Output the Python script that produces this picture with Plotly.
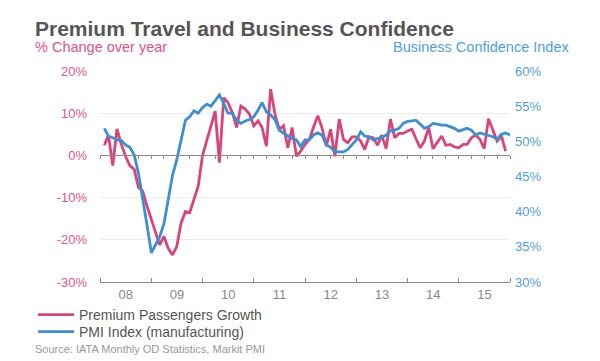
import pandas as pd
import plotly.graph_objects as go

# ---- data ----
premium_growth = [2.4, 4.8, -2.4, 6.3, 2.6, -0.2, -2.4, -3.3, -7.6, -8.5,
                  -12, -15, -18.4, -21.2, -19.2, -22, -23.6, -21.6, -16, -13.3,
                  -13.6, -10.5, -7.3, 0, 3.8, 7, 10.5, -1.7, 13.7, 12.5,
                  10.2, 6.6, 11.7, 11, 9.8, 7, 8.2, 6.6, 2.2, 15.7,
                  9.8, 6.2, 7, 1.8, 6.6, -0.2, 1, 2.6, 3.8, 6.6,
                  9.4, 6.6, 2.2, 6.2, -0.2, 8.6, 3.8, 3, 4.4, 4.4,
                  3.4, 1.4, 4.4, 4.2, 2.4, 4.8, 1.6, 8.6, 4.2, 5.2,
                  5.2, 5.8, 6.2, 4, 1.8, 3.4, 6.6, 1.6, 3, 4.6,
                  2.4, 2.6, 2, 1.8, 2.6, 2.6, 4.2, 4.8, 3.8, 1.6,
                  8.7, 6.2, 3.4, 4.6, 1]

pmi_index = [51.85, 50.75, 50.5, 50.2, 50.1, 49.5, 49.15, 48.05, 45.45, 41.9,
             38.1, 34.15, 35.25, 36.4, 38.3, 41.65, 45.2, 47.35, 50.2, 53,
             53.5, 54.35, 54, 54.8, 55.3, 55, 55.8, 56.6, 55.4, 54,
             54, 53, 52.55, 52.9, 53.1, 53.5, 54.45, 55.5, 54.2, 53.75,
             53.1, 51.6, 51.15, 50.75, 50.4, 50.2, 49.25, 50.2, 50.2, 50.9,
             51.2, 50.9, 49.5, 49.15, 48.5, 48.5, 48.5, 48.85, 49.5, 50.2,
             51.35, 50.75, 50.65, 50.2, 50.4, 50.55, 50.9, 51.5, 51.6, 51.85,
             52.55, 52.85, 52.9, 53, 52.45, 51.85, 52.1, 52.55, 52.45, 52.3,
             52.3, 52.1, 51.85, 51.45, 51.7, 51.85, 51.6, 50.9, 51.2, 51,
             50.75, 50.65, 50.3, 51, 51.2, 50.9]

start_month = "2008-02-01"
premium_dates = pd.date_range(start_month, periods=len(premium_growth), freq="MS")
pmi_dates = pd.date_range(start_month, periods=len(pmi_index), freq="MS")

left_ticks = [-30, -20, -10, 0, 10, 20]
left_labels = [f"{v}%" for v in left_ticks]
right_ticks = [30, 35, 40, 45, 50, 55, 60]
right_labels = [f"{v}%" for v in right_ticks]

PINK = "#d9447a"
BLUE = "#3b8fd2"
PINK_TXT = "#e0548a"
BLUE_TXT = "#4f9fd8"
FONT = "Liberation Sans, Arial, sans-serif"

# The page places the figure 8px in from the window's top-left corner,
# so the figure is sized/laid out in window pixels minus that offset.
OFF = 8
W, H = 600 - OFF, 361 - OFF
PLOT_L, PLOT_R, PLOT_T, PLOT_B = 100, 510, 71, 282   # window pixels
L, T = PLOT_L - OFF, PLOT_T - OFF
R, B = W - (PLOT_R - OFF), H - (PLOT_B - OFF)
PW, PH = W - L - R, H - T - B


def px_x(p):
    return (p - PLOT_L) / PW


def px_y(p):
    return (PLOT_B - p) / PH


fig = go.Figure()
fig.add_trace(go.Scatter(x=premium_dates, y=premium_growth, mode="lines",
                         name="Premium Passengers Growth", legend="legend",
                         line=dict(color=PINK, width=2.8), yaxis="y"))
fig.add_trace(go.Scatter(x=pmi_dates, y=pmi_index, mode="lines",
                         name="PMI Index (manufacturing)", legend="legend2",
                         line=dict(color=BLUE, width=2.8), yaxis="y2"))
# invisible trace to carry the zero-line axis ticks
fig.add_trace(go.Scatter(x=[pmi_dates[0]], y=[0], mode="lines", xaxis="x2",
                         yaxis="y", showlegend=False, hoverinfo="skip",
                         line=dict(width=0)))

legend_common = dict(xanchor="left", yanchor="middle",
                     font=dict(size=14, color="#555"), itemwidth=36,
                     bgcolor="rgba(0,0,0,0)", borderwidth=0)

fig.update_layout(
    width=W, height=H,
    margin=dict(l=L, r=R, t=T, b=B, autoexpand=False),
    paper_bgcolor="white", plot_bgcolor="white",
    font=dict(family=FONT, size=13, color="#888"),
    showlegend=True,
    legend=dict(x=px_x(33), y=px_y(315), **legend_common),
    legend2=dict(x=px_x(33), y=px_y(332), **legend_common),
    xaxis=dict(type="date", range=["2008-01-01", "2016-01-01"],
               showline=True, linecolor="#8a8a8a", linewidth=1,
               ticks="inside", ticklen=4, tickcolor="#8a8a8a",
               dtick="M12", tick0="2008-01-01", tickformat="%y",
               ticklabelmode="period", showgrid=False, zeroline=False,
               tickfont=dict(size=13, color="#888")),
    xaxis2=dict(type="date", range=["2008-01-01", "2016-01-01"],
                overlaying="x", anchor="free", position=0.6,
                showline=True, linecolor="#8a8a8a", linewidth=1,
                ticks="outside", ticklen=3, tickcolor="#8a8a8a",
                dtick="M3", tick0="2008-01-01", showticklabels=False,
                showgrid=False, zeroline=False),
    yaxis=dict(range=[-30, 20], tickvals=left_ticks, ticktext=left_labels,
               showgrid=True, gridcolor="#ebebeb", zeroline=False,
               showline=False, ticks="", ticklabelstandoff=12,
               tickfont=dict(size=13, color=PINK_TXT)),
    yaxis2=dict(range=[30, 60], tickvals=right_ticks, ticktext=right_labels,
                overlaying="y", side="right", showgrid=False,
                zeroline=False, showline=False, ticks="",
                ticklabelstandoff=4,
                tickfont=dict(size=13, color=BLUE_TXT)),
    annotations=[
        dict(text="<b>Premium Travel and Business Confidence</b>",
             xref="paper", yref="paper", x=px_x(33), y=px_y(28),
             xanchor="left", yanchor="middle", showarrow=False,
             font=dict(size=21, color="#555")),
        dict(text="% Change over year", xref="paper", yref="paper",
             x=px_x(33), y=px_y(47), xanchor="left", yanchor="middle",
             showarrow=False, font=dict(size=14.5, color=PINK_TXT)),
        dict(text="Business Confidence Index", xref="paper", yref="paper",
             x=px_x(571), y=px_y(47), xanchor="right",
             yanchor="middle", showarrow=False,
             font=dict(size=14.5, color=BLUE_TXT)),
        dict(text="Source: IATA Monthly OD Statistics, Markit PMI",
             xref="paper", yref="paper", x=px_x(33), y=px_y(349),
             xanchor="left", yanchor="middle", showarrow=False,
             font=dict(size=11, color="#999")),
    ],
)

fig.write_html("out.html")
